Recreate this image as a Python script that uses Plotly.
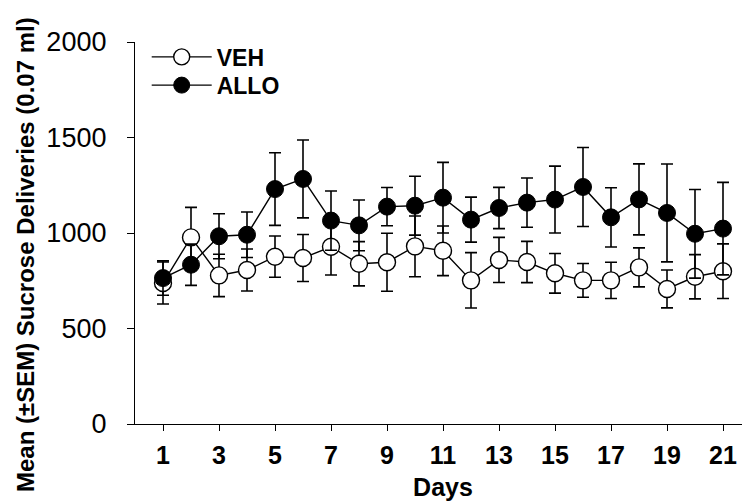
import plotly.graph_objects as go

days = list(range(1, 22))
veh_mean = [738, 977, 778, 806, 876, 869, 928, 839, 847, 930, 907,
            752, 859, 848, 789, 752, 752, 820, 707, 771, 800]
veh_sem = [110, 157, 111, 110, 108, 123, 148, 116, 152, 159, 130,
           145, 118, 108, 104, 88, 95, 102, 99, 116, 143]
allo_mean = [764, 834, 983, 991, 1230, 1283, 1065, 1040, 1138, 1143, 1185,
             1070, 1131, 1159, 1175, 1241, 1082, 1176, 1105, 996, 1023]
allo_sem = [90, 108, 118, 119, 190, 204, 155, 133, 100, 154, 185,
            118, 108, 129, 175, 207, 155, 186, 256, 232, 242]
x_ticks = [1, 3, 5, 7, 9, 11, 13, 15, 17, 19, 21]
y_ticks = [0, 500, 1000, 1500, 2000]
y_title = "<b>Mean (±SEM) Sucrose Deliveries (0.07 ml)</b>"

FONT = "Arial, Liberation Sans, sans-serif"

fig = go.Figure()
fig.add_trace(go.Scatter(
    x=days, y=veh_mean, name="VEH", mode="lines+markers", legend="legend",
    line=dict(color="black", width=1.4),
    marker=dict(size=17, color="white", line=dict(color="black", width=1.4)),
    error_y=dict(type="data", array=veh_sem, visible=True, color="black",
                 thickness=1.6, width=6),
))
fig.add_trace(go.Scatter(
    x=days, y=allo_mean, name="ALLO", mode="lines+markers", legend="legend2",
    line=dict(color="black", width=1.4),
    marker=dict(size=17, color="black", line=dict(color="black", width=1)),
    error_y=dict(type="data", array=allo_sem, visible=True, color="black",
                 thickness=1.6, width=6),
))

leg_common = dict(
    xanchor="left", yanchor="middle",
    font=dict(family=FONT, size=23, color="black", weight="bold"),
    bgcolor="rgba(0,0,0,0)", itemwidth=60,
)

fig.update_layout(
    width=750, height=502,
    margin=dict(l=127, r=7, t=34, b=86),
    paper_bgcolor="white", plot_bgcolor="white",
    font=dict(family=FONT, color="black"),
    showlegend=True,
    legend=dict(x=0.019, y=0.961, **leg_common),
    legend2=dict(x=0.019, y=0.887, **leg_common),
    xaxis=dict(
        range=[0, 22], tickvals=x_ticks, ticktext=[str(v) for v in x_ticks],
        showline=True, linecolor="black", linewidth=1.3,
        ticks="outside", ticklen=6, tickwidth=1.2, tickcolor="black",
        showgrid=False, zeroline=False,
        tickfont=dict(family=FONT, size=25, weight="bold"),
        ticklabelstandoff=3,
        title=dict(text="<b>Days</b>", font=dict(family=FONT, size=25), standoff=10),
    ),
    yaxis=dict(
        range=[0, 2000], tickvals=y_ticks,
        showline=True, linecolor="black", linewidth=1.3,
        ticks="outside", ticklen=7, tickwidth=1.2, tickcolor="black",
        showgrid=False, zeroline=False,
        tickfont=dict(family=FONT, size=27),
        ticklabelstandoff=15,
    ),
    annotations=[dict(
        text=y_title, textangle=-90, showarrow=False,
        xref="paper", yref="paper", x=-0.1786, y=0.445,
        xanchor="center", yanchor="middle",
        font=dict(family=FONT, size=24, color="black"),
    )],
)

fig.write_html("out.html")
